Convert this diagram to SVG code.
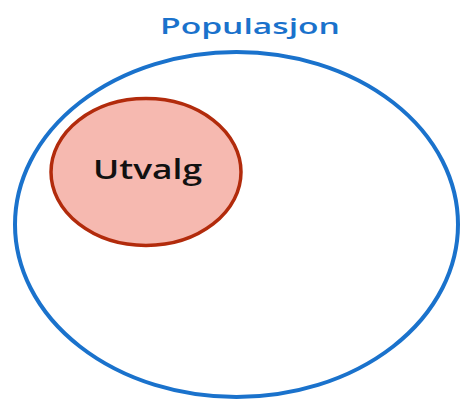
<svg xmlns="http://www.w3.org/2000/svg" width="460" height="401" viewBox="0 0 460 401">
<style>
.lbl{font-family:"Open Sans","DejaVu Sans",sans-serif;font-weight:600;}
</style>
<rect width="460" height="401" fill="#ffffff"/>
<g id="populasjon">
<ellipse cx="236.5" cy="224.5" rx="221.5" ry="172.5" fill="#ffffff" stroke="#1a72cc" stroke-width="4"/>
<text class="lbl" x="160" y="34" font-size="22" fill="#1a72cc" textLength="180" lengthAdjust="spacingAndGlyphs">Populasjon</text>
</g>
<g id="utvalg">
<ellipse cx="146" cy="172" rx="95" ry="73.5" fill="#f6b9b0" stroke="#b22b0c" stroke-width="3.5"/>
<text class="lbl" x="93" y="179" font-size="27" fill="#111111" textLength="109" lengthAdjust="spacingAndGlyphs">Utvalg</text>
</g>
</svg>
